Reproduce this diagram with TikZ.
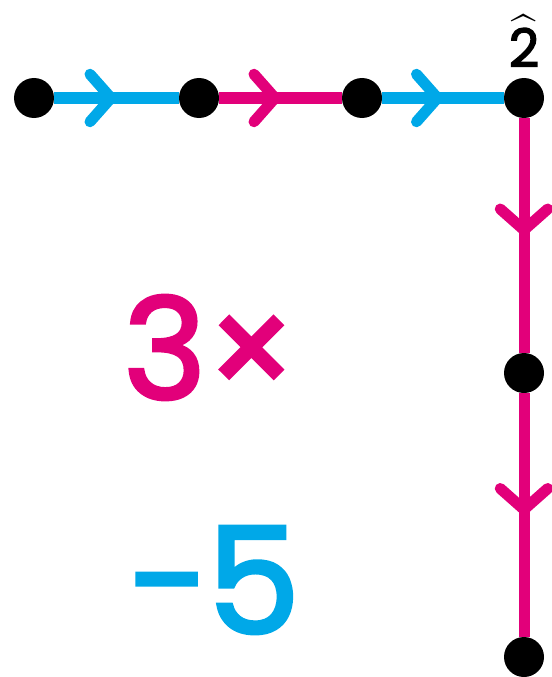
\documentclass[tikz,border=0pt]{standalone}
\usepackage{amsmath}
\usepackage{fontspec}
\setmainfont{Poppins}
\newfontfamily\roundfont[FakeBold=2.5]{Poppins}
\usetikzlibrary{arrows.meta,decorations.markings}
\definecolor{mag}{RGB}{226,0,122}
\definecolor{cyn}{RGB}{0,168,232}

\begin{document}
\begin{tikzpicture}[dot/.style={circle,fill=black,minimum size=0.8cm,inner sep=0pt},
  flow/.style={line width=0.22cm, postaction={decorate}, decoration={markings, mark=at position 0.5 with {\arrow{Straight Barb[length=0.42cm,width=0.95cm,line width=0.22cm,round]}}}},
  big/.style={font=\fontsize{80}{80}\selectfont\roundfont}]
  \useasboundingbox (0,0) rectangle (11.04,-13.54);
  \node[dot] (a) at (0.68,-1.96) {}; \node[dot] (b) at (3.98,-1.96) {}; \node[dot] (c) at (7.24,-1.96) {};
  \node[dot] (d) at (10.48,-1.96) {}; \node[dot] (e) at (10.48,-7.46) {}; \node[dot] (f) at (10.48,-13.14) {};
  \draw[flow,cyn] (a) -- (b); \draw[flow,mag] (b) -- (c); \draw[flow,cyn] (c) -- (d);
  \draw[flow,mag] (d) -- (e); \draw[flow,mag] (e) -- (f);
  \node[font=\fontsize{30}{30}\selectfont, inner sep=0pt] (hat) at (10.48,-0.82) {$\widehat{\text{\roundfont 2}}$};
  \node[big,text=mag] (times) at (4.2,-6.95) {3×};
  \node[big,text=cyn,font=\fontsize{84}{84}\selectfont\roundfont] (minus) at (4.26,-11.6) {−5};
\end{tikzpicture}
\end{document}
